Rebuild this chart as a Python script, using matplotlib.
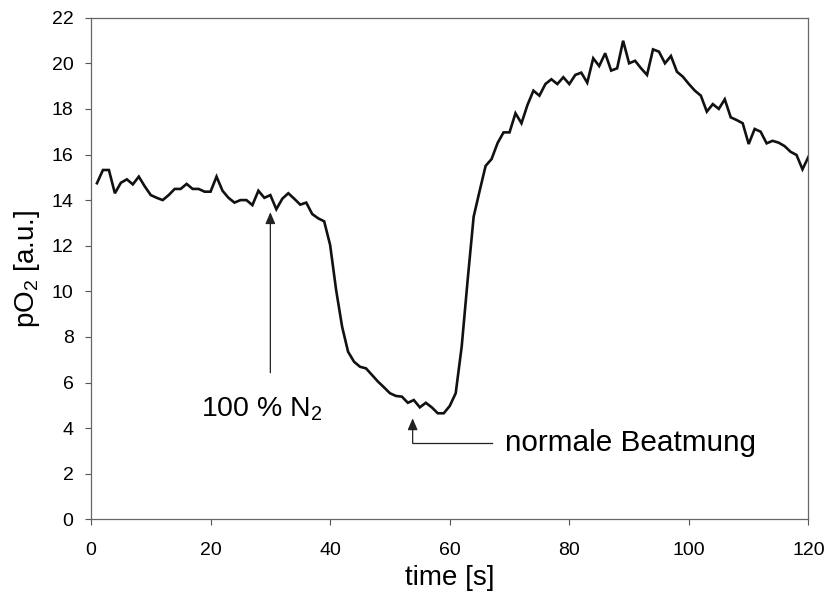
import matplotlib
matplotlib.use("Agg")
import matplotlib.pyplot as plt

plt.rcParams['font.family'] = ['Liberation Sans', 'DejaVu Sans']
plt.rcParams['mathtext.fontset'] = 'custom'
plt.rcParams['mathtext.rm'] = 'Liberation Sans'
plt.rcParams['mathtext.default'] = 'regular'

# time in seconds, one sample per second
time_s = list(range(1, 121))
po2 = [
    14.74, 15.32, 15.32, 14.30, 14.76, 14.91, 14.69, 15.03, 14.60, 14.22,
    14.10, 14.00, 14.22, 14.49, 14.49, 14.71, 14.49, 14.49, 14.37, 14.37,
    15.03, 14.41, 14.10, 13.89, 14.00, 14.00, 13.78, 14.41, 14.10, 14.22,
    13.60, 14.06, 14.30, 14.06, 13.80, 13.89, 13.39, 13.20, 13.07, 12.03,
    10.06, 8.45, 7.35, 6.91, 6.69, 6.62, 6.33, 6.04, 5.79, 5.53,
    5.41, 5.38, 5.11, 5.23, 4.91, 5.11, 4.91, 4.65, 4.65, 4.97,
    5.53, 7.57, 10.50, 13.27, 14.40, 15.50, 15.80, 16.50, 16.97, 16.97,
    17.81, 17.37, 18.17, 18.80, 18.58, 19.09, 19.30, 19.09, 19.39, 19.09,
    19.49, 19.59, 19.15, 20.22, 19.88, 20.44, 19.68, 19.78, 20.99, 20.00,
    20.11, 19.78, 19.49, 20.61, 20.51, 20.00, 20.32, 19.63, 19.41, 19.09,
    18.80, 18.58, 17.88, 18.21, 18.00, 18.42, 17.63, 17.51, 17.37, 16.46,
    17.12, 17.00, 16.49, 16.60, 16.52, 16.37, 16.12, 15.98, 15.35, 15.90,
]

x_ticks = [0, 20, 40, 60, 80, 100, 120]
y_ticks = list(range(0, 23, 2))

fig = plt.figure(figsize=(8.27, 5.98), dpi=100)
ax = fig.add_axes([0.110, 0.1316, 0.8676, 0.8388])

ax.plot(time_s, po2, color='#111111', linewidth=1.9, solid_joinstyle='miter')

ax.set_xlim(0, 120)
ax.set_ylim(0, 22)
ax.set_xticks(x_ticks)
ax.set_yticks(y_ticks)
ax.tick_params(direction='out', length=4.5, width=0.8, color='#555555',
               labelsize=14)
ax.tick_params(axis='x', pad=12)
ax.tick_params(axis='y', pad=8)
for s in ax.spines.values():
    s.set_color('#666666')
    s.set_linewidth(0.9)

ax.set_xlabel('time [s]', fontsize=20, labelpad=4)
ax.set_ylabel('pO$_2$ [a.u.]', fontsize=20, labelpad=7)

# 100 % N2 arrow
ax.annotate('', xy=(30.0, 13.47), xytext=(30.0, 6.43),
            arrowprops=dict(arrowstyle='-|>,head_length=0.7,head_width=0.3',
                            color='#222222', lw=0.9, shrinkA=0, shrinkB=0))
ax.text(28.6, 4.50, '100 % N$_2$', fontsize=20.5, ha='center', va='baseline')

# normale Beatmung arrow (elbow)
ax.plot([53.8, 67.0], [3.33, 3.33], color='#222222', lw=0.9)
ax.annotate('', xy=(53.8, 4.43), xytext=(53.8, 3.33),
            arrowprops=dict(arrowstyle='-|>,head_length=0.7,head_width=0.3',
                            color='#222222', lw=0.9, shrinkA=0, shrinkB=0))
ax.text(69.2, 3.00, 'normale Beatmung', fontsize=21.4, ha='left', va='baseline')

fig.savefig('out.png', dpi=100)
